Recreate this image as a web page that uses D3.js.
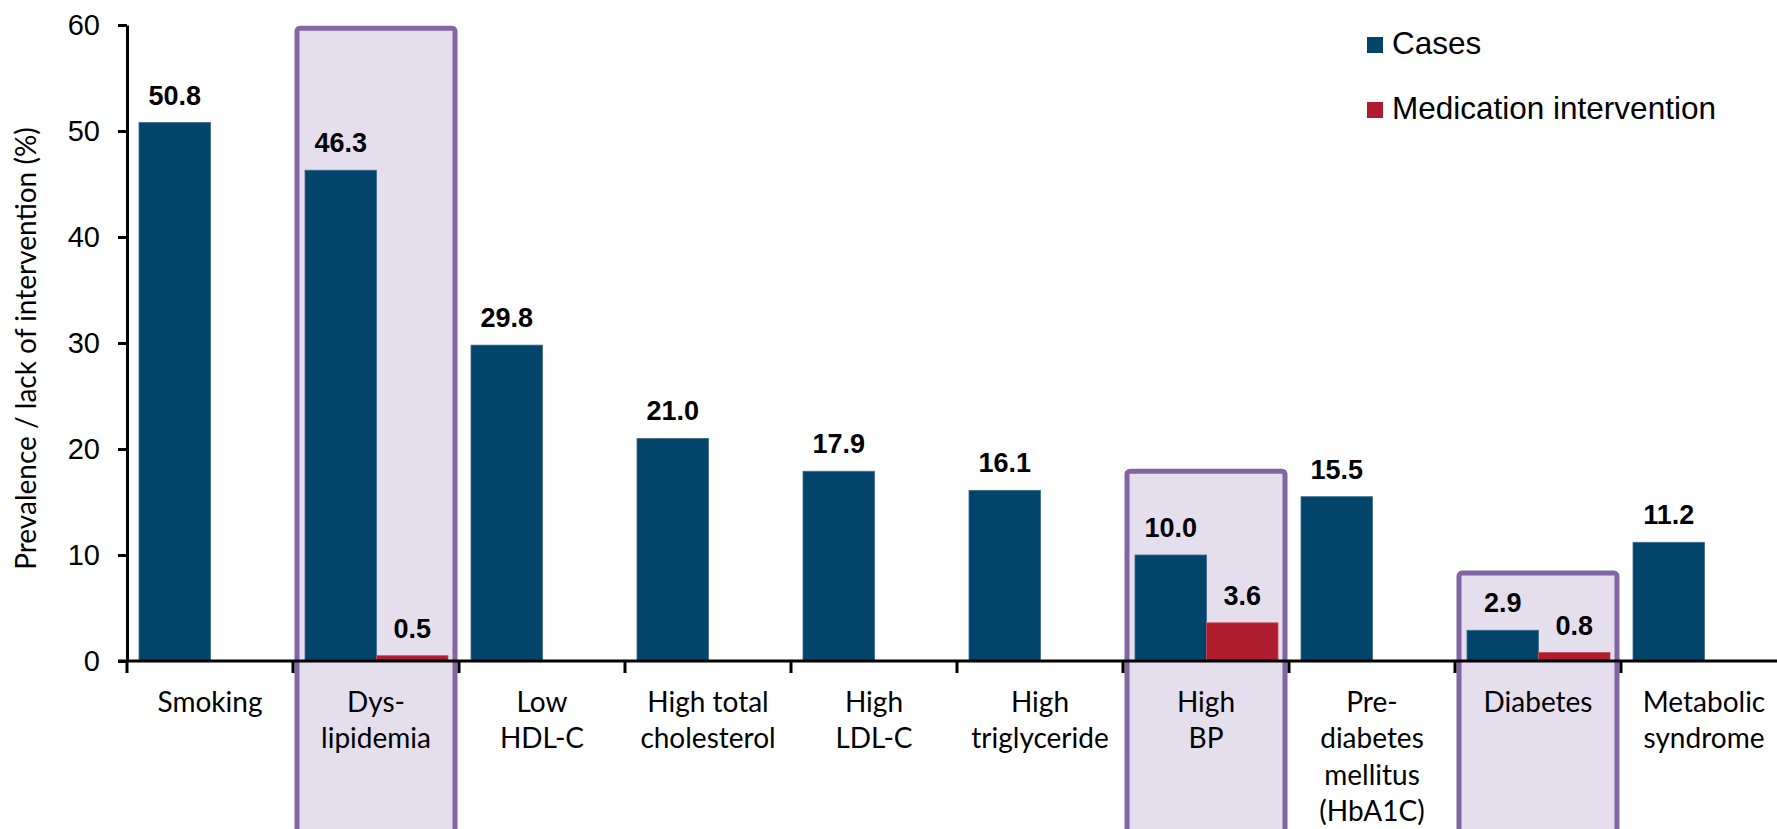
<!DOCTYPE html>
<html>
<head>
<meta charset="utf-8">
<script src="https://cdn.jsdelivr.net/npm/d3@7"></script>
<style>
  html, body { margin: 0; padding: 0; background: #ffffff; }
  svg { display: block; }
</style>
</head>
<body>
<svg id="chart" width="1777" height="829"></svg>
<script>
// Risk-factor categories (line breaks as shown under the axis)
const categories = [
  ["Smoking"],
  ["Dys-", "lipidemia"],
  ["Low", "HDL-C"],
  ["High total", "cholesterol"],
  ["High", "LDL-C"],
  ["High", "triglyceride"],
  ["High", "BP"],
  ["Pre-", "diabetes", "mellitus", "(HbA1C)"],
  ["Diabetes"],
  ["Metabolic", "syndrome"]
];
const categoryKeys = categories.map(c => c.join(" "));

// Prevalence of cases (%)
const cases = [50.8, 46.3, 29.8, 21.0, 17.9, 16.1, 10.0, 15.5, 2.9, 11.2];
// Lack of medication intervention (%), only where reported
const medication = [null, 0.5, null, null, null, null, 3.6, null, 0.8, null];

const seriesNames = ["Cases", "Medication intervention"];
const seriesColors = ["#03446a", "#ae1c2e"];

// Highlighted categories and the value their frame reaches up to
const highlightCats = ["Dys- lipidemia", "High BP", "Diabetes"];
const highlightTops = [59.7, 17.9, 8.3];

const yTicks = [0, 10, 20, 30, 40, 50, 60];
const yTitle = "Prevalence / lack of intervention (%)";

const W = 1777, H = 829;
const plotLeft = 127, plotTop = 25, baseY = 661;
const band = 166;

const svg = d3.select("#chart");

const x = d3.scaleBand()
  .domain(categoryKeys)
  .range([plotLeft, plotLeft + band * categoryKeys.length])
  .paddingInner(0).paddingOuter(0);

const xs = d3.scaleBand()
  .domain(seriesNames)
  .range([12, 155]);

const y = d3.scaleLinear().domain([0, 60]).range([baseY, plotTop]);

// Highlight frames (behind bars)
const frames = svg.append("g").attr("class", "frames");
highlightCats.forEach((cat, i) => {
  frames.append("rect")
    .attr("x", x(cat) + 4)
    .attr("y", y(highlightTops[i]))
    .attr("width", x.bandwidth() - 8)
    .attr("height", H + 20 - y(highlightTops[i]))
    .attr("rx", 3).attr("ry", 3)
    .attr("fill", "#e5dfed")
    .attr("stroke", "#8166a3")
    .attr("stroke-width", 5);
});

// Bars
const rows = categoryKeys.map((k, i) => ({ key: k, values: [cases[i], medication[i]] }));
const groups = svg.append("g").attr("class", "bars")
  .selectAll("g").data(rows).join("g")
  .attr("transform", d => `translate(${x(d.key)},0)`);

const entries = d => d.values.map((v, j) => ({ v, s: seriesNames[j], j })).filter(e => e.v !== null);

groups.selectAll("rect")
  .data(entries)
  .join("rect")
  .attr("x", e => xs(e.s))
  .attr("y", e => y(e.v))
  .attr("width", xs.bandwidth())
  .attr("height", e => baseY - y(e.v))
  .attr("fill", e => seriesColors[e.j])
  .attr("stroke", e => e.j === 0 ? "#3f6b8a" : "#c04c5a")
  .attr("stroke-width", 0.8);

// Value labels
groups.selectAll("text.val")
  .data(entries)
  .join("text")
  .attr("class", "val")
  .attr("x", e => xs(e.s) + xs.bandwidth() / 2)
  .attr("y", e => y(e.v) - 18)
  .attr("text-anchor", "middle")
  .style("font-family", "'Liberation Sans', Arial, sans-serif")
  .style("font-weight", "bold")
  .style("font-size", "27px")
  .attr("fill", "#000")
  .text(e => e.v.toFixed(1));

// Y axis
const yAxis = svg.append("g")
  .attr("transform", `translate(${plotLeft},0)`)
  .call(d3.axisLeft(y).tickValues(yTicks).tickSize(9).tickSizeOuter(0).tickPadding(18).tickFormat(d3.format("d")));
yAxis.select(".domain").attr("stroke", "#000").attr("stroke-width", 3);
yAxis.selectAll(".tick line").attr("stroke", "#000").attr("stroke-width", 3);
yAxis.selectAll(".tick text")
  .style("font-family", "'Liberation Sans', Arial, sans-serif")
  .style("font-size", "29px")
  .attr("fill", "#000");

// X axis baseline with category separators
const xAxis = svg.append("g").attr("class", "x-axis");
xAxis.append("line")
  .attr("x1", plotLeft - 9).attr("x2", W)
  .attr("y1", baseY).attr("y2", baseY)
  .attr("stroke", "#000").attr("stroke-width", 3);
const bounds = categoryKeys.map(k => x(k)).concat([x.range()[1]]);
xAxis.selectAll("line.sep").data(bounds).join("line")
  .attr("class", "sep")
  .attr("x1", d => d).attr("x2", d => d)
  .attr("y1", baseY).attr("y2", baseY + 12)
  .attr("stroke", "#000").attr("stroke-width", 3);

// Category labels
const catLabels = svg.append("g").selectAll("text").data(categories).join("text")
  .attr("x", (d, i) => x(categoryKeys[i]) + x.bandwidth() / 2)
  .attr("y", 712)
  .attr("text-anchor", "middle")
  .style("font-family", "Lato, 'Open Sans', sans-serif")
  .style("font-size", "28px")
  .attr("fill", "#000");
catLabels.selectAll("tspan").data(d => d).join("tspan")
  .attr("x", function () { return d3.select(this.parentNode).attr("x"); })
  .attr("dy", (d, i) => i === 0 ? 0 : 36.3)
  .text(d => d);

// Y axis title
svg.append("text")
  .attr("transform", `translate(36,${(125 + 572) / 2}) rotate(-90)`)
  .attr("text-anchor", "middle")
  .style("font-family", "Lato, 'Open Sans', sans-serif")
  .style("font-size", "28px")
  .attr("fill", "#000")
  .text(yTitle);

// Legend
const legend = svg.append("g").attr("transform", "translate(1367,37)");
seriesNames.forEach((name, i) => {
  const g = legend.append("g").attr("transform", `translate(0,${i * 65})`);
  g.append("rect").attr("width", 16).attr("height", 16).attr("fill", seriesColors[i]);
  g.append("text")
    .attr("x", 25).attr("y", 17)
    .style("font-family", "'Liberation Sans', Arial, sans-serif")
    .style("font-size", "31.5px")
    .attr("fill", "#000")
    .text(name);
});
</script>
</body>
</html>
